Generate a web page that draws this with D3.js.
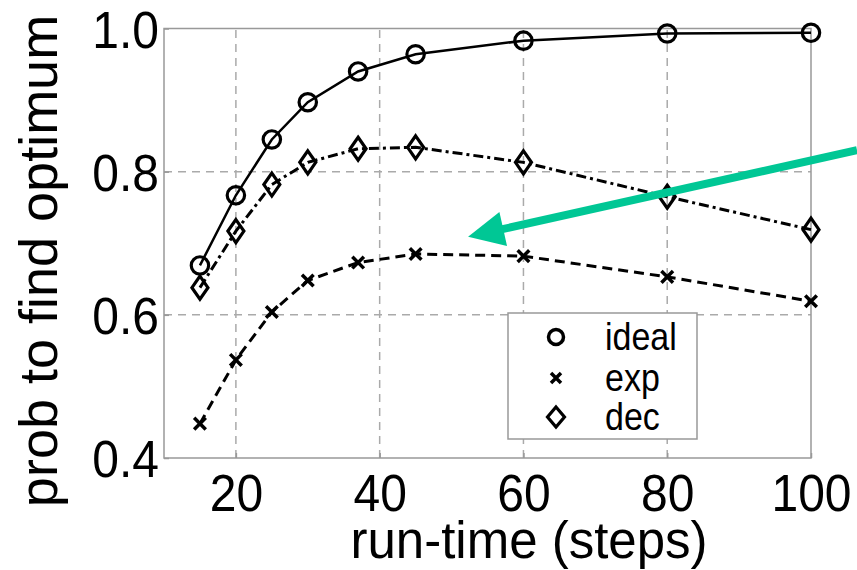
<!DOCTYPE html>
<html>
<head>
<meta charset="utf-8">
<script src="https://cdn.jsdelivr.net/npm/d3@7"></script>
<style>
  body { margin: 0; background: #fff; }
  text { font-family: "Liberation Sans", Arial, sans-serif; fill: #000; }
  .stretch { transform-box: fill-box; transform-origin: center; }
</style>
</head>
<body>
<div id="chart"></div>
<script>
// data
var runTime = [15, 20, 25, 30, 37, 45, 60, 80, 100];
var ideal = [0.669, 0.767, 0.845, 0.897, 0.940, 0.964, 0.983, 0.993, 0.994];
var expP = [0.448, 0.537, 0.604, 0.648, 0.673, 0.685, 0.682, 0.653, 0.619];
var dec = [0.638, 0.717, 0.782, 0.813, 0.832, 0.834, 0.813, 0.765, 0.719];
var seriesNames = ["ideal", "exp", "dec"];
var xTicks = [20, 40, 60, 80, 100];
var yTicks = [0.4, 0.6, 0.8, 1.0];
// annotation arrow, in data units (tail, tip)
var arrowFrom = [106.4, 0.830];
var arrowTo = [52.3, 0.709];

var w = 857, h = 570;
var m = {top: 28.5, right: 46, bottom: 112, left: 164};

var svg = d3.select("#chart").append("svg")
  .attr("width", w)
  .attr("height", h);

var x = d3.scaleLinear().domain([10, 100]).range([m.left, w - m.right]);
var y = d3.scaleLinear().domain([0.4, 1.0]).range([h - m.bottom, m.top]);

// grid
svg.append("g").selectAll("line")
  .data(xTicks.slice(0, -1))
  .enter().append("line")
  .attr("x1", d => x(d)).attr("x2", d => x(d))
  .attr("y1", y(0.4)).attr("y2", y(1.0))
  .attr("stroke", "#aaa").attr("stroke-width", 1.5)
  .attr("stroke-dasharray", "8,6");

svg.append("g").selectAll("line")
  .data(yTicks.slice(1, -1))
  .enter().append("line")
  .attr("x1", x(10)).attr("x2", x(100))
  .attr("y1", d => y(d)).attr("y2", d => y(d))
  .attr("stroke", "#aaa").attr("stroke-width", 1.5)
  .attr("stroke-dasharray", "8,6");

// axes (ticks point inwards)
var xAxis = svg.append("g")
  .attr("transform", "translate(0," + y(0.4) + ")")
  .call(d3.axisBottom(x).tickValues(xTicks).tickSizeInner(-5).tickSizeOuter(0).tickPadding(18));

var yAxis = svg.append("g")
  .attr("transform", "translate(" + x(10) + ",0)")
  .call(d3.axisLeft(y).tickValues(yTicks).tickFormat(d3.format(".1f")).tickSizeInner(-5).tickSizeOuter(0).tickPadding(5));

[xAxis, yAxis].forEach(a => {
  a.select(".domain").remove();
  a.selectAll(".tick line").attr("stroke", "#999").attr("stroke-width", 1.5);
  a.selectAll(".tick text")
    .attr("class", "stretch")
    .style("font-size", "48px")
    .style("transform", "scaleY(1.08)")
    .attr("fill", "#000");
});
yAxis.selectAll(".tick text").attr("dy", "0.36em");

// frame
svg.append("rect")
  .attr("x", x(10)).attr("y", y(1.0))
  .attr("width", x(100) - x(10)).attr("height", y(0.4) - y(1.0))
  .attr("fill", "none").attr("stroke", "#999").attr("stroke-width", 1.5);

// axis titles
svg.append("text")
  .attr("x", 529).attr("y", 558)
  .attr("text-anchor", "middle")
  .style("font-size", "51px")
  .text("run-time (steps)");

svg.append("text")
  .attr("transform", "translate(57,261) rotate(-90)")
  .attr("text-anchor", "middle")
  .style("font-size", "54px")
  .text("prob to find optimum");

// series
var line = d3.line()
  .x(d => x(d[0]))
  .y(d => y(d[1]));

var styles = {
  ideal: {dash: null, width: 2.5},
  exp: {dash: "10,6", width: 3},
  dec: {dash: "10,4,3,4", width: 3}
};

var data = {
  ideal: runTime.map((t, i) => [t, ideal[i]]),
  exp: runTime.map((t, i) => [t, expP[i]]),
  dec: runTime.map((t, i) => [t, dec[i]])
};

seriesNames.forEach(name => {
  svg.append("path")
    .datum(data[name])
    .attr("d", line)
    .attr("fill", "none")
    .attr("stroke", "#000")
    .attr("stroke-width", styles[name].width)
    .attr("stroke-dasharray", styles[name].dash);
});

function marker(g, name, big) {
  if (name === "ideal") {
    g.append("circle").attr("r", big ? 8.7 : 7.5)
      .attr("fill", "none").attr("stroke", "#000").attr("stroke-width", big ? 3.2 : 3.5);
  } else if (name === "exp") {
    var s = big ? 5.8 : 5;
    g.append("path").attr("d", `M${-s},${-s}L${s},${s}M${-s},${s}L${s},${-s}`)
      .attr("stroke", "#000").attr("stroke-width", 3.5);
  } else {
    var hw = big ? 8 : 8.5, hh = big ? 11.5 : 10;
    g.append("path").attr("d", `M0,${-hh}L${hw},0L0,${hh}L${-hw},0Z`)
      .attr("fill", "none").attr("stroke", "#000").attr("stroke-width", 3.2);
  }
}

seriesNames.forEach(name => {
  svg.append("g").selectAll("g")
    .data(data[name])
    .enter().append("g")
    .attr("transform", d => "translate(" + x(d[0]) + "," + y(d[1]) + ")")
    .each(function() { marker(d3.select(this), name, true); });
});

// legend
var legend = svg.append("g");
legend.append("rect")
  .attr("x", 508).attr("y", 313).attr("width", 189).attr("height", 126)
  .attr("fill", "#fff").attr("stroke", "#999").attr("stroke-width", 1.5);

var rowY = [337, 378, 417];
seriesNames.forEach((name, i) => {
  var g = legend.append("g").attr("transform", "translate(556," + rowY[i] + ")");
  marker(g, name, false);
  legend.append("text")
    .attr("class", "stretch")
    .attr("x", 605).attr("y", rowY[i] + 11)
    .style("font-size", "34px")
    .style("transform", "scaleY(1.15)")
    .text(name);
});

// green arrow
var ax0 = x(arrowFrom[0]), ay0 = y(arrowFrom[1]);
var ax1 = x(arrowTo[0]), ay1 = y(arrowTo[1]);
var ang = Math.atan2(ay1 - ay0, ax1 - ax0);
var headLen = 36, headHalf = 17.5;
var bx = ax1 - headLen * Math.cos(ang), by = ay1 - headLen * Math.sin(ang);
var px = -Math.sin(ang), py = Math.cos(ang);

svg.append("line")
  .attr("x1", ax0).attr("y1", ay0)
  .attr("x2", bx + 2 * Math.cos(ang)).attr("y2", by + 2 * Math.sin(ang))
  .attr("stroke", "#00c795").attr("stroke-width", 8);

svg.append("path")
  .attr("d", `M${ax1},${ay1}L${bx + headHalf * px},${by + headHalf * py}L${bx - headHalf * px},${by - headHalf * py}Z`)
  .attr("fill", "#00c795");
</script>
</body>
</html>
